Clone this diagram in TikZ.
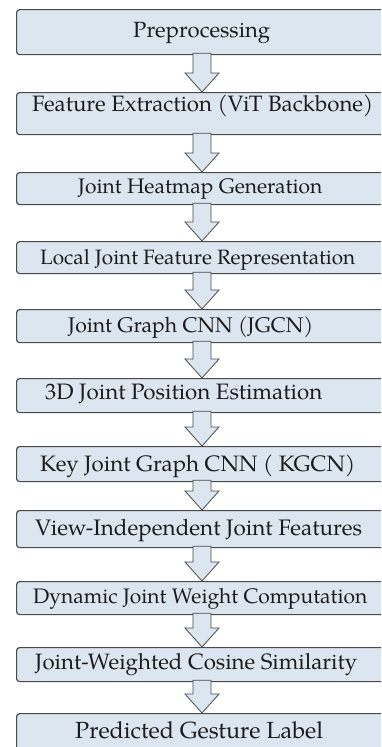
\documentclass[tikz,border=0pt]{standalone}
\usepackage{graphicx}
\usepackage{fontspec}
\setmainfont{texgyrepagella-regular.otf}
\usetikzlibrary{calc}
\definecolor{boxfill}{HTML}{DCE6F1}
\definecolor{boxline}{HTML}{4A4A4A}
\definecolor{txt}{HTML}{1C1C1C}
\tikzset{
  box/.style={draw=boxline, line width=1.2pt, fill=boxfill, rounded corners=3pt,
    minimum width=380pt, inner sep=0pt, anchor=north west},
  lbl/.style={inner sep=0pt, anchor=base west, text=txt},
  arr/.style={draw=boxline, line width=0.8pt, fill=boxfill, line join=miter},
}
\newcommand{\blockarrow}[2]{%
  \path[arr] ($(#1.south -| ax)+(-9,-2)$) -- ($(#2.north -| ax)+(-9,-19)$)
    -- ($(#2.north -| ax)+(-17,-19)$) -- (#2.north -| ax)
    -- ($(#2.north -| ax)+(17,-19)$) -- ($(#2.north -| ax)+(9,-19)$)
    -- ($(#1.south -| ax)+(9,-2)$) -- cycle;}
\begin{document}
\begin{tikzpicture}[x=1pt,y=-1pt]
\useasboundingbox (0,0) rectangle (381,747);
\clip (0,0) rectangle (381,747);
\coordinate (ax) at (202,0);
% boxes
\node[box, minimum height=45pt] (b1) at (16,9) {};
\node[box, minimum height=42pt] (b2) at (16,92) {};
\node[box, minimum height=32pt] (b3) at (16,172) {};
\node[box, minimum height=32pt] (b4) at (16,241) {};
\node[box, minimum height=33pt] (b5) at (16,309) {};
\node[box, minimum height=34pt] (b6) at (16,378) {};
\node[box, minimum height=35pt] (b7) at (16,446) {};
\node[box, minimum height=37pt] (b8) at (16,510) {};
\node[box, minimum height=33pt] (b9) at (16,581) {};
\node[box, minimum height=34pt] (b10) at (16,647) {};
\node[box, minimum height=50pt] (b11) at (16,713) {};
% arrows
\blockarrow{b1}{b2}
\blockarrow{b2}{b3}
\blockarrow{b3}{b4}
\blockarrow{b4}{b5}
\blockarrow{b5}{b6}
\blockarrow{b6}{b7}
\blockarrow{b7}{b8}
\blockarrow{b8}{b9}
\blockarrow{b9}{b10}
\blockarrow{b10}{b11}
% labels
\node[lbl] (t1) at (133,37) {\resizebox{137pt}{!}{Preprocessing}};
\node[lbl] (t2) at (32,111.5) {\resizebox{341pt}{!}{Feature Extraction (ViT Backbone)}};
\node[lbl] (t3) at (78,193.5) {\resizebox{244pt}{!}{Joint Heatmap Generation}};
\node[lbl] (t4) at (40,264) {\resizebox{315pt}{!}{Local Joint Feature Representation}};
\node[lbl] (t5) at (68,332.5) {\resizebox{245pt}{!}{Joint Graph CNN (JGCN)}};
\node[lbl] (t6) at (45,399.5) {\resizebox{277pt}{!}{3D Joint Position Estimation}};
\node[lbl] (t7) at (40,471.5) {\resizebox{315pt}{!}{Key Joint Graph CNN ( KGCN)}};
\node[lbl] (t8) at (35,535) {\resizebox{327pt}{!}{View-Independent Joint Features}};
\node[lbl] (t9) at (33,603.5) {\resizebox{334pt}{!}{Dynamic Joint Weight Computation}};
\node[lbl] (t10) at (35,669.5) {\resizebox{322pt}{!}{Joint-Weighted Cosine Similarity}};
\node[lbl] (t11) at (75,738) {\resizebox{248pt}{!}{Predicted Gesture Label}};
\end{tikzpicture}
\end{document}
